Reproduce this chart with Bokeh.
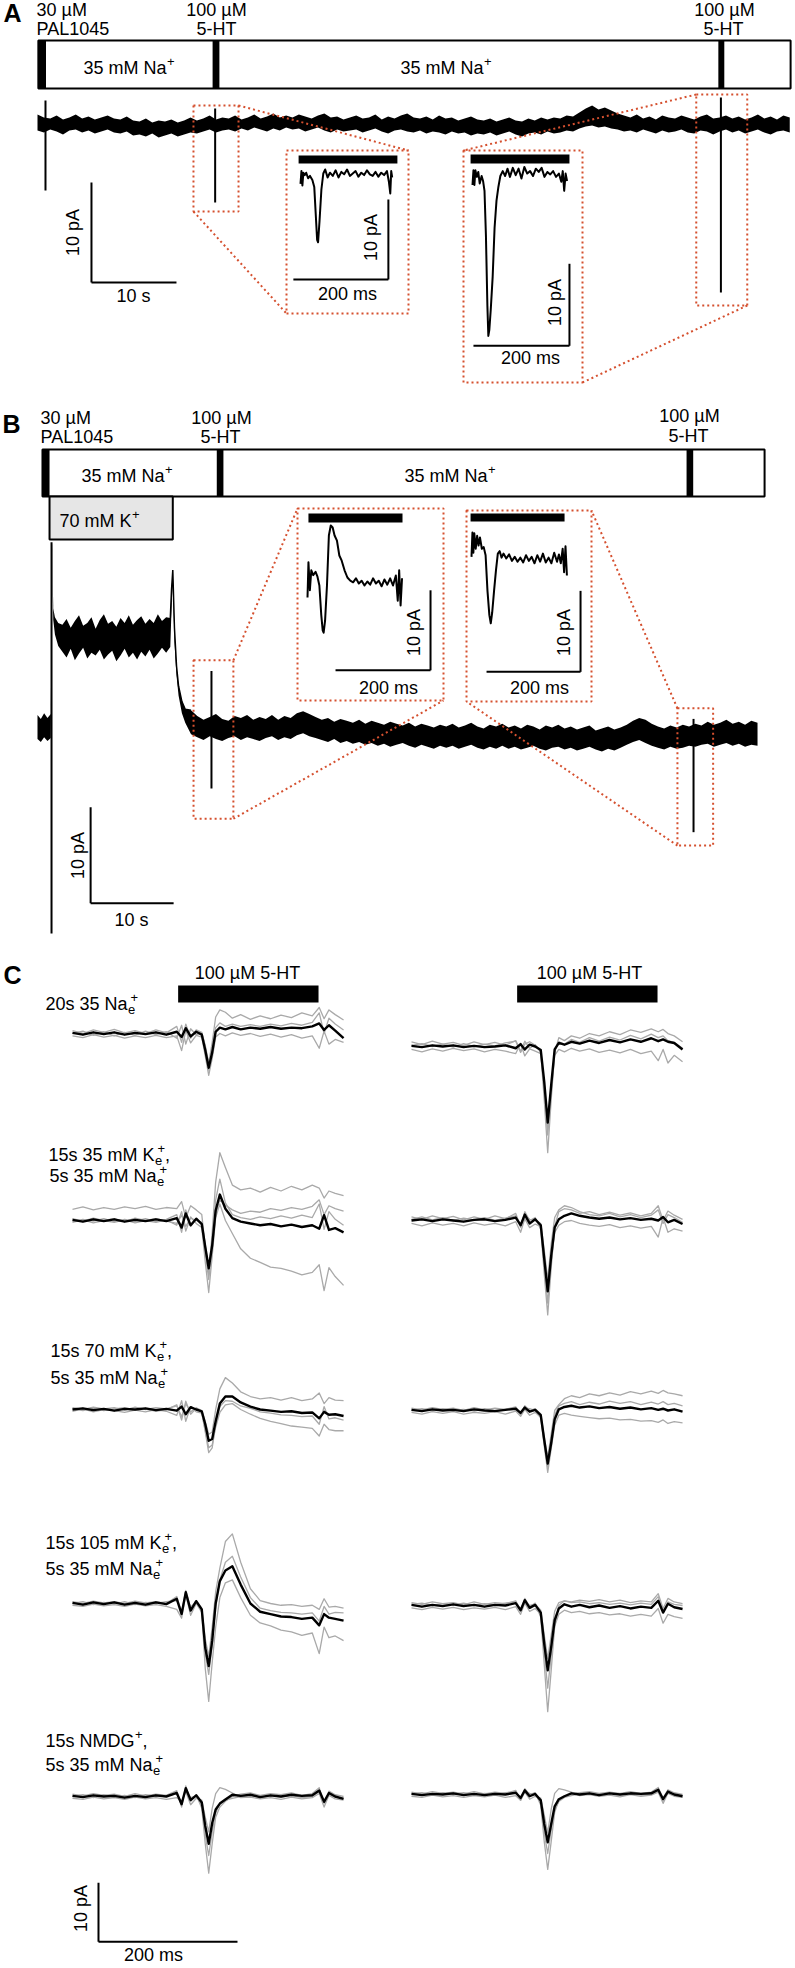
import math
from bokeh.plotting import figure
from bokeh.models import Range1d
from bokeh.core.properties import value
from bokeh.embed import file_html
from bokeh.resources import INLINE

# ======================= DATA =======================
# ---- Panel A : continuous recording sampled every A_DT s; upper / lower noise envelope in pA (baseline = 0)
A_DT = 0.75
A_HI = [0.9, 0.6, 0.5, 0.8, 0.4, 0.6, 0.9, 0.5, 0.7, 0.4,
        0.6, 0.8, 0.5, 0.4, 0.7, 0.3, 0.2, 0.5, 0.1, 0.3,
        0.2, 0.4, 0.1, 0.3, 0.6, 0.3, 0.5, 0.8, 0.4, 0.6,
        0.5, 0.8, 0.4, 0.6, 0.9, 0.5, 0.7, 1.0, 0.6, 0.8,
        0.6, 0.9, 0.7, 0.5, 0.8, 1.0, 0.6, 0.7, 0.4, 0.6,
        0.8, 0.5, 0.6, 0.9, 0.4, 0.7, 0.5, 0.8, 1.0, 0.6,
        0.5, 0.7, 0.4, 0.8, 0.5, 0.6, 0.3, 0.5, 0.7, 0.4,
        0.3, 0.5, 0.2, 0.4, 0.6, 0.3, 0.2, 0.5, 0.3, 0.6,
        0.4, 0.6, 0.5, 0.8, 0.7, 1.1, 1.5, 1.8, 1.4, 1.6,
        1.3, 1.0, 0.8, 0.6, 0.9, 0.5, 0.7, 0.4, 0.8, 0.6,
        0.5, 0.8, 0.6, 0.4, 0.7, 0.9, 0.5, 0.6, 0.8, 0.5,
        0.7, 0.4, 0.6, 0.9, 0.5, 0.7, 0.4, 0.8, 0.6]
A_LO = [-0.7, -0.9, -0.6, -0.8, -1.1, -0.7, -0.6, -0.9, -0.7, -1.0,
        -0.8, -0.6, -0.9, -1.0, -0.8, -1.2, -1.1, -1.3, -1.0, -1.4,
        -1.2, -1.0, -1.3, -1.1, -0.9, -1.0, -0.8, -0.6, -0.9, -0.7,
        -0.6, -0.8, -0.5, -0.7, -0.4, -0.6, -0.8, -0.5, -0.7, -0.4,
        -0.6, -0.5, -0.8, -0.6, -0.4, -0.7, -0.9, -0.6, -0.8, -0.7,
        -0.6, -0.9, -0.7, -0.5, -0.8, -1.0, -0.7, -0.6, -0.8, -0.9,
        -0.7, -1.0, -0.8, -0.9, -1.1, -0.8, -1.0, -0.9, -1.2, -1.0,
        -1.1, -0.9, -1.2, -1.0, -0.8, -1.1, -1.3, -1.0, -0.9, -1.1,
        -0.8, -1.0, -0.9, -0.7, -0.8, -0.5, -0.3, -0.2, -0.4, -0.3,
        -0.5, -0.6, -0.8, -0.7, -0.9, -0.6, -0.8, -1.0, -0.7, -0.9,
        -0.8, -0.6, -0.9, -1.0, -0.7, -0.8, -1.1, -0.8, -0.6, -0.9,
        -0.7, -1.0, -0.8, -0.6, -0.9, -1.1, -0.8, -0.7, -0.9]
A_T = [i * A_DT for i in range(len(A_HI))]
A_SPIKE_T = [0.94, 20.9, 80.4]
A_SPIKE_TOP = [2.3, 1.5, 2.6]
A_SPIKE_BOT = [-6.7, -7.9, -16.9]
A_BAR = [0.1, 88.6]
A_PULSE_ON = [0.1, 20.6, 80.1]
A_PULSE_OFF = [1.0, 21.4, 80.8]
A_ZOOM_T0 = [18.35, 77.5]
A_ZOOM_T1 = [23.65, 83.5]
A_ZOOM_I0 = [-8.8, -18.2]
A_ZOOM_I1 = [1.8, 2.9]

# ---- Panel B : pieces of the recording (s / pA)
B_PRE_T = [0, 0.4, 0.8, 1.2, 1.6]
B_PRE_HI = [1.4, 1.0, 1.6, 1.1, 1.5]
B_PRE_LO = [-1.1, -1.4, -0.9, -1.3, -1.0]
B_ON_T = [1.75, 1.9, 2.1, 2.5]
B_ON_HI = [19.4, 12.5, 11.6, 11.0]
B_ON_LO = [18.6, 11.3, 9.8, 8.6]
B_PLAT_T0, B_PLAT_DT = 3.0, 0.5
B_PLAT_HI = [10.8, 11.4, 10.5, 11.2, 11.8, 10.7, 11.0, 11.6, 10.4, 11.3, 11.9, 10.9, 11.2,
             10.6, 11.5, 11.0, 11.8, 10.8, 11.3, 11.7, 10.9, 11.4, 11.0, 11.9, 11.2, 11.6]
B_PLAT_LO = [8.0, 7.4, 8.3, 7.1, 7.8, 8.4, 7.3, 7.9, 7.6, 8.2, 7.2, 7.7, 8.1,
             7.0, 7.6, 8.3, 7.4, 7.9, 7.2, 8.0, 7.5, 8.2, 7.3, 7.8, 8.4, 7.9]
B_OFF_T = [16.0, 16.15, 16.3, 16.5, 16.75, 17.0, 17.4, 17.8, 18.5]
B_OFF_HI = [11.5, 14.5, 16.5, 10.5, 6.5, 4.4, 2.8, 2.0, 1.9]
B_OFF_LO = [8.5, 12.5, 15.5, 9.0, 5.5, 3.4, 1.6, 0.6, -0.6]
B_POST_T0, B_POST_DT = 19.25, 0.75
B_POST_HI = [1.3, 0.9, 1.2, 1.5, 1.0, 0.8, 1.3, 1.1, 1.4, 0.9,
             1.2, 1.0, 1.4, 0.9, 1.3, 1.1, 1.6, 1.8, 1.5, 1.2,
             0.9, 1.1, 0.7, 1.0, 0.8, 0.6, 0.9, 0.5, 0.8, 0.6,
             0.4, 0.7, 0.5, 0.3, 0.6, 0.2, 0.5, 0.3, 0.1, 0.4,
             0.2, 0.5, 0.1, 0.3, 0.6, 0.2, 0.0, 0.4, 0.2, 0.5,
             0.1, 0.3, 0.0, 0.4, 0.2, -0.1, 0.3, 0.1, 0.4, 0.0,
             0.2, -0.1, 0.1, 0.3, -0.2, 0.0, 0.2, -0.1, 0.1, 0.4,
             0.8, 1.1, 0.9, 0.5, 0.2, 0.0, 0.3, 0.1, 0.4, 0.2,
             0.5, 0.3, 0.7, 0.4, 0.6, 0.9, 0.5, 0.7, 0.4, 0.8, 0.6]
B_POST_LO = [-0.9, -1.2, -0.8, -1.1, -1.3, -1.0, -0.8, -1.2, -0.9, -1.1,
             -1.3, -1.0, -0.8, -1.2, -0.9, -1.1, -0.7, -0.5, -0.8, -1.0,
             -1.2, -1.4, -1.1, -1.5, -1.3, -1.6, -1.4, -1.7, -1.5, -1.8,
             -1.6, -1.9, -1.7, -1.5, -1.8, -2.0, -1.7, -1.9, -2.1, -1.8,
             -2.0, -1.8, -2.1, -1.9, -1.7, -2.0, -2.2, -1.9, -2.1, -1.8,
             -2.1, -1.9, -2.2, -2.0, -1.8, -2.1, -2.3, -2.0, -1.9, -2.2,
             -2.0, -2.3, -2.1, -1.9, -2.2, -2.4, -2.1, -2.3, -2.0, -1.7,
             -1.4, -1.2, -1.5, -1.8, -2.0, -2.2, -1.9, -2.1, -2.0, -1.8,
             -1.9, -1.7, -1.6, -1.9, -1.7, -1.5, -1.8, -1.6, -1.9, -1.7, -1.8]
B_T = (B_PRE_T + B_ON_T + [B_PLAT_T0 + i * B_PLAT_DT for i in range(len(B_PLAT_HI))]
       + B_OFF_T + [B_POST_T0 + i * B_POST_DT for i in range(len(B_POST_HI))])
B_HI = B_PRE_HI + B_ON_HI + B_PLAT_HI + B_OFF_HI + B_POST_HI
B_LO = B_PRE_LO + B_ON_LO + B_PLAT_LO + B_OFF_LO + B_POST_LO
B_STEP_T = [1.69]
B_STEP_TOP = [19.4]
B_STEP_BOT = [-21.35]
B_SPIKE_T = [20.96, 79.04]
B_SPIKE_TOP = [6.0, 1.0]
B_SPIKE_BOT = [-6.25, -10.8]
B_BAR = [0.6, 87.6]
B_PULSE_ON = [0.6, 21.6, 78.2]
B_PULSE_OFF = [1.45, 22.4, 79.0]
B_K_BOX = [1.45, 16.3]
B_ZOOM_T0 = [18.8, 77.1]
B_ZOOM_T1 = [23.6, 81.4]
B_ZOOM_I0 = [-9.4, -12.2]
B_ZOOM_I1 = [7.1, 2.1]

# ---- insets (time ms, current pA)
A1_T = [0, 2, 4, 6, 9, 12, 16, 20, 25, 29, 32, 35, 37, 40, 44, 48, 52, 57, 62, 68, 74, 80, 86, 92, 98, 104,
        110, 116, 122, 128, 134, 140, 146, 152, 158, 164, 170, 176, 182, 186, 189, 191, 193]
A1_I = [-0.8, 0.8, -1.0, 0.6, 0.3, 0.6, -0.1, 0.2, -0.3, -1.2, -4.5, -7.8, -8.1, -5.5, -1.5, 0.5, 1.0, 0.0, 0.6, 0.2,
        0.9, 0.0, 0.7, 0.4, 1.0, 0.2, 0.5, 0.8, 0.1, 0.6, 0.3, 0.9, 0.4, 0.2, 0.7, 0.1, 0.6, 0.3, 0.8, -0.5, -2.0, 0.8, 0.0]
A2_T = [0, 2, 4, 6, 9, 12, 15, 19, 22, 25, 28, 31, 33, 35, 38, 42, 46, 50, 54, 58, 63, 68, 73, 78, 84, 90, 96,
        102, 108, 114, 120, 126, 132, 138, 144, 150, 156, 162, 168, 174, 180, 185, 188, 191, 194, 197]
A2_I = [-0.8, 1.0, -0.8, 1.0, 0.2, 0.8, -0.6, 0.3, -0.3, -1.5, -7.0, -15.5, -19.2, -18.5, -16.0, -12.0, -6.0, -2.7,
        -1.0, 0.3, 0.9, 0.3, 1.2, 0.2, 1.3, 0.4, 1.2, 0.0, 1.4, 0.6, 0.9, 0.3, 1.2, 0.8, 1.3, 0.2, 0.8, 0.5, 0.9, 0.2,
        0.6, -0.4, 0.9, -1.5, 0.6, -0.3]
B1_T = [0, 2, 5, 8, 12, 17, 21, 25, 29, 32, 34, 37, 41, 45, 49, 53, 57, 62, 67, 72, 78, 84, 90, 96, 102, 108,
        114, 120, 126, 132, 138, 144, 150, 156, 162, 168, 174, 180, 186, 190, 193, 196, 199]
B1_I = [-3.0, 1.4, -2.1, 0.4, -0.2, 0.2, -0.4, -1.5, -5.2, -7.1, -7.4, -5.9, -1.5, 4.75, 6.0, 5.75, 4.75, 4.1, 2.25,
        1.6, 0.4, -0.5, -0.9, -1.1, -0.6, -1.25, -0.9, -1.5, -1.0, -1.4, -0.6, -1.25, -0.9, -1.6, -0.75, -1.4, -0.6,
        -1.5, -0.25, -3.4, 0.4, -4.0, -0.6]
B2_T = [0, 2, 4, 6, 9, 12, 15, 18, 22, 26, 30, 34, 38, 41, 44, 48, 52, 56, 60, 64, 68, 74, 80, 86, 92, 98, 104,
        110, 116, 122, 128, 134, 140, 146, 152, 158, 164, 170, 176, 182, 186, 190, 194, 197, 200, 203]
B2_I = [-1.4, 1.6, -0.9, 1.5, -0.4, 1.2, 0.0, 1.0, -0.4, -0.2, -1.2, -5.6, -8.6, -9.6, -8.3, -5.6, -3.1, -1.0, -0.7,
        -1.5, -1.0, -1.6, -1.1, -1.9, -1.4, -2.0, -1.5, -2.1, -1.2, -1.9, -1.4, -2.2, -1.2, -2.0, -1.0, -2.1, -1.5,
        -2.2, -0.9, -2.0, -1.1, -2.2, -0.4, -3.3, -0.1, -3.7]
A1_BAR = [-4, 204]
A2_BAR = [-4, 202]
B1_BAR = [2, 200]
B2_BAR = [-2, 198]

# ---- Panel C : averaged responses (black) and single trials (grey), time ms / pA
C_T = [0, 15, 30, 45, 60, 75, 90, 105, 120, 135, 150, 157, 163, 170, 178, 186, 191, 196, 201, 206,
       212, 220, 230, 242, 256, 270, 285, 300, 315, 330, 345, 355, 362, 369, 378, 390]
C_BAR = [152, 354]

C1L_MEAN = [0.1, -0.2, 0.2, -0.1, 0.2, -0.2, 0.1, -0.1, 0.2, -0.2, 0.3, -0.6, 0.9, -0.5, 0.3, -0.2, -2.8, -5.8, -3.2, 0.3,
            1.0, 0.7, 1.1, 0.7, 1.0, 0.8, 1.1, 0.8, 1.0, 0.9, 1.2, 1.7, 0.6, 1.4, 0.5, -0.8]
C1L_TRIALS = [
    [0.5, 0.0, 0.6, 0.2, 0.7, 0.1, 0.5, 0.0, 0.6, 0.1, 1.2, -1.5, 1.6, -0.8, 0.6, 0.2, -2.0, -5.0, -1.5, 2.8,
     4.0, 3.6, 2.6, 3.2, 2.4, 3.0, 2.5, 3.1, 2.7, 3.5, 3.0, 4.4, 2.5, 4.0, 3.2, 2.3],
    [-0.4, -0.7, -0.2, -0.6, -0.3, -0.8, -0.4, -0.7, -0.3, -0.7, -0.4, -2.9, 0.5, -1.6, -0.3, -0.6, -3.8, -7.1, -4.2, -0.6,
     0.0, -0.4, 0.1, -0.3, 0.0, -0.5, -0.1, -0.6, -0.2, -0.8, -0.4, -2.5, 0.4, -1.8, -1.0, -1.5],
    [0.0, 0.4, -0.3, 0.3, -0.4, 0.2, -0.3, 0.4, -0.2, 0.3, -0.8, 1.4, -1.8, 0.8, -0.2, 0.1, -2.2, -6.2, -2.8, 1.0,
     1.8, 1.2, 1.6, 1.2, 1.5, 1.2, 1.6, 1.3, 1.7, 1.4, 1.9, 3.5, 0.0, 2.6, 1.6, 0.6]]
C1R_MEAN = [0.1, -0.1, 0.2, 0.0, 0.2, -0.1, 0.1, -0.1, 0.0, 0.2, -0.3, 0.4, -0.5, 0.3, 0.0, -0.6, -6.0, -12.9, -6.5, -0.5,
            0.6, 0.3, 0.8, 0.5, 1.0, 0.6, 1.1, 0.7, 1.2, 0.8, 1.4, 0.9, 1.2, 0.8, 0.6, -0.5]
C1R_TRIALS = [
    [0.8, 0.3, 0.9, 0.4, 0.7, 0.2, 0.8, 0.3, 0.7, 0.2, 1.0, -0.8, 0.9, -0.3, 0.3, -1.0, -9.0, -18.0, -9.0, -1.0,
     1.5, 1.0, 1.8, 1.4, 2.2, 1.8, 2.5, 2.0, 2.8, 2.4, 3.0, 2.5, 2.9, 2.2, 1.8, 0.8],
    [-0.5, -0.9, -0.4, -0.8, -0.3, -0.7, -0.4, -0.9, -0.5, -0.8, -1.2, 0.5, -1.6, -0.4, -0.8, -1.2, -7.5, -15.0, -8.0, -1.5,
     -0.5, -0.9, -0.3, -0.8, -0.4, -1.0, -0.6, -1.1, -0.5, -1.2, -0.8, -2.4, -0.5, -2.8, -1.5, -2.6],
    [0.2, 0.5, 0.0, 0.4, -0.1, 0.5, 0.0, 0.4, 0.1, 0.6, 0.9, -1.0, 0.4, 0.8, 0.2, -0.8, -6.5, -14.0, -7.0, -0.8,
     0.8, 0.4, 1.2, 0.7, 1.5, 0.9, 1.6, 1.1, 1.9, 1.3, 2.1, 1.5, 1.8, 1.0, 0.7, -0.3]]

C2L_MEAN = [0.1, -0.2, 0.2, -0.1, 0.2, -0.2, 0.1, -0.1, 0.2, -0.1, 0.4, -1.2, 1.2, -0.8, 0.3, -0.6, -4.5, -8.1, -4.2, 1.7,
            4.4, 2.0, 0.4, -0.2, -0.5, -0.8, -0.6, -1.0, -0.7, -1.1, -0.8, -1.4, 0.9, -1.6, -1.3, -2.0]
C2L_TRIALS = [
    [-0.3, 0.1, -0.4, 0.0, -0.3, 0.1, -0.4, 0.0, -0.3, 0.1, -0.8, 1.5, -1.8, 0.6, -0.5, -1.2, -7.0, -12.2, -6.0, 0.5,
     2.8, 0.0, -2.2, -4.8, -6.4, -7.1, -7.9, -8.1, -8.6, -9.2, -8.8, -7.5, -11.9, -8.0, -9.5, -11.0],
    [1.9, 2.3, 1.8, 2.2, 1.9, 2.3, 2.0, 2.4, 1.9, 2.2, 2.0, 3.2, 0.5, 2.5, 1.8, 1.0, -4.5, -9.0, -2.0, 6.5,
     11.5, 9.0, 6.0, 5.2, 5.5, 4.8, 5.6, 5.0, 5.8, 5.2, 6.0, 5.5, 3.8, 5.0, 4.6, 4.2],
    [-0.2, 0.2, -0.1, 0.3, -0.2, 0.2, -0.1, 0.3, -0.2, 0.2, 1.0, -2.0, 1.8, -1.0, 0.2, -0.4, -5.5, -10.0, -5.0, 3.5,
     7.0, 3.0, 1.0, 0.5, 0.2, 0.6, 0.3, 0.8, 0.4, 0.9, 0.5, 2.8, -1.5, 1.5, 0.2, -0.8],
    [0.3, -0.1, 0.4, 0.0, 0.3, -0.2, 0.4, 0.0, 0.3, -0.1, -0.5, 0.9, -1.0, 0.4, 0.0, -0.3, -4.0, -8.5, -4.5, 1.0,
     3.5, 2.6, 1.8, 1.2, 1.6, 1.4, 2.0, 1.7, 2.2, 1.9, 2.4, 3.5, 1.0, 2.5, 2.0, 1.6]]
C2R_MEAN = [0.0, 0.2, -0.1, 0.2, 0.0, -0.2, 0.1, 0.2, -0.1, 0.1, 0.5, -0.8, 1.0, -0.5, 0.2, -0.8, -6.5, -12.0, -6.0, -1.2,
            0.2, 0.8, 1.2, 0.8, 0.5, 0.3, 0.5, 0.2, 0.4, 0.1, 0.3, 0.0, 0.6, -0.3, 0.1, -0.6]
C2R_TRIALS = [
    [0.6, 0.2, 0.8, 0.3, 0.7, 0.1, 0.6, 0.2, 0.8, 0.3, 1.2, -1.0, 1.5, 0.0, 0.5, -1.5, -9.0, -16.0, -8.0, -1.0,
     1.5, 2.0, 1.8, 1.2, 1.5, 1.0, 1.4, 0.9, 1.3, 0.8, 1.2, 2.5, 0.0, 1.6, 0.9, 0.2],
    [-0.5, -0.9, -0.4, -0.8, -0.5, -0.9, -0.4, -0.8, -0.5, -0.9, -0.2, -2.0, 0.3, -1.2, -0.6, -1.0, -7.5, -14.0, -7.0, -2.0,
     -0.8, -0.2, 0.0, -0.5, -0.8, -1.0, -0.7, -1.2, -0.9, -1.3, -1.0, -2.8, 0.5, -2.0, -1.4, -1.8],
    [0.2, 0.6, 0.1, 0.5, 0.0, 0.4, 0.1, 0.5, 0.0, 0.4, 0.8, -1.2, 0.9, 0.2, 0.1, -0.5, -5.0, -10.0, -4.0, 0.5,
     1.8, 2.5, 2.2, 1.5, 1.0, 0.8, 1.2, 0.6, 1.0, 0.5, 0.9, 1.8, -0.5, 1.0, 0.5, -0.3]]

C3L_MEAN = [0.0, 0.2, -0.1, 0.1, -0.2, 0.1, 0.0, 0.2, -0.1, 0.1, -0.2, 0.5, -0.8, 0.4, 0.0, -0.3, -2.5, -5.3, -5.0, -2.0,
            1.0, 2.2, 2.2, 1.2, 0.5, 0.0, -0.2, -0.4, -0.3, -0.6, -0.5, -1.5, -0.4, -0.9, -0.8, -1.1]
C3L_TRIALS = [
    [0.3, 0.0, 0.4, 0.1, 0.3, -0.1, 0.4, 0.0, 0.3, 0.1, 0.6, -1.2, 1.0, -0.4, 0.3, -0.2, -2.0, -4.2, -3.8, 0.0,
     3.5, 5.4, 4.5, 3.0, 2.2, 1.8, 2.0, 1.6, 2.0, 1.5, 1.8, 2.8, 1.0, 2.0, 1.6, 1.5],
    [-0.3, 0.1, -0.4, 0.0, -0.2, -0.5, -0.1, -0.4, 0.0, -0.3, -1.0, 1.5, -2.0, 0.5, -0.4, -0.6, -3.5, -6.5, -6.0, -3.0,
     -0.5, 0.8, 1.0, 0.0, -0.8, -1.5, -2.0, -2.4, -2.8, -3.0, -3.2, -4.5, -2.5, -3.4, -3.6, -3.6],
    [0.1, -0.2, 0.2, -0.2, 0.1, 0.3, -0.1, 0.1, -0.3, 0.0, 0.8, -1.8, 1.4, -0.8, 0.2, -0.5, -3.8, -7.3, -6.5, -2.5,
     0.5, 1.5, 1.4, 0.6, 0.2, -0.4, -0.6, -0.9, -1.0, -1.2, -1.1, -2.5, 0.5, -1.6, -1.4, -1.8]]
C3R_MEAN = [0.1, -0.1, 0.2, 0.0, 0.1, -0.1, 0.2, 0.0, -0.1, 0.1, 0.3, -0.4, 0.5, -0.2, 0.1, -0.8, -5.0, -9.0, -5.5, -1.5,
            0.2, 0.6, 0.8, 0.5, 0.7, 0.4, 0.6, 0.3, 0.5, 0.2, 0.4, 0.1, 0.3, 0.0, 0.2, -0.2]
C3R_TRIALS = [
    [0.4, 0.1, 0.5, 0.2, 0.4, 0.0, 0.5, 0.1, 0.4, 0.2, 0.6, -0.6, 0.8, 0.0, 0.3, -0.6, -4.5, -8.0, -4.0, 0.0,
     1.0, 2.0, 2.5, 2.2, 2.8, 2.5, 3.0, 2.6, 3.2, 2.8, 3.3, 2.9, 3.4, 3.0, 2.8, 2.5],
    [-0.3, -0.6, -0.2, -0.5, -0.2, -0.6, -0.3, -0.5, -0.2, -0.6, -0.1, -1.0, 0.2, -0.8, -0.3, -1.2, -6.0, -10.5, -6.5, -2.5,
     -0.8, -0.5, -0.8, -1.0, -1.2, -1.4, -1.3, -1.6, -1.5, -1.8, -1.7, -2.0, -1.6, -2.2, -1.9, -2.1],
    [0.0, 0.3, -0.1, 0.3, 0.0, 0.2, -0.1, 0.3, 0.0, 0.2, 0.5, -0.8, 0.4, 0.3, 0.0, -1.0, -5.5, -9.5, -5.0, -0.8,
     0.8, 1.2, 1.5, 1.0, 1.4, 1.1, 1.6, 1.2, 1.5, 1.0, 1.4, 1.1, 1.5, 1.0, 1.2, 0.8]]

C4L_MEAN = [0.1, -0.2, 0.2, -0.1, 0.2, -0.2, 0.1, -0.2, 0.2, -0.1, 0.8, -1.8, 1.9, -1.2, 0.4, -1.0, -7.5, -10.6, -6.3, 0.0,
            3.8, 5.6, 6.3, 3.2, 0.0, -1.4, -1.8, -2.2, -2.3, -2.6, -2.4, -3.7, -1.8, -2.4, -2.6, -2.9]
C4L_TRIALS = [
    [0.3, 0.0, 0.4, 0.1, 0.3, 0.0, 0.4, 0.1, 0.3, 0.0, 1.2, -1.5, 2.2, -0.8, 0.5, -0.8, -6.0, -9.0, -4.0, 2.0,
     6.0, 10.5, 11.8, 7.0, 2.5, 0.5, 0.0, -0.3, -0.2, -0.5, -0.3, -1.0, 0.8, -0.6, -0.5, -0.8],
    [-0.3, -0.5, -0.1, -0.4, -0.2, -0.5, -0.1, -0.4, -0.2, -0.5, -1.0, -2.5, 1.5, -2.0, 0.0, -1.5, -11.0, -16.6, -10.0, -4.0,
     1.0, 3.5, 4.0, 1.0, -2.0, -3.3, -3.8, -4.5, -4.8, -5.4, -5.0, -8.5, -4.0, -5.8, -5.5, -6.3],
    [0.0, 0.3, -0.2, 0.2, -0.1, 0.3, -0.2, 0.2, 0.0, 0.3, 0.5, -1.2, 1.5, -0.6, 0.3, -1.2, -8.5, -12.0, -7.0, -0.5,
     4.0, 7.0, 8.0, 4.5, 1.0, -0.8, -1.2, -1.5, -1.6, -1.8, -1.6, -3.0, -0.5, -1.8, -1.5, -1.6]]
C4R_MEAN = [0.1, -0.2, 0.1, -0.1, 0.2, -0.1, 0.1, -0.2, 0.1, 0.0, 0.4, -0.8, 0.9, -0.4, 0.1, -1.2, -6.5, -11.0, -7.0, -2.5,
            -0.5, 0.2, -0.2, 0.1, -0.3, 0.0, -0.4, -0.1, -0.5, -0.2, -0.4, 0.8, -1.2, 0.3, -0.3, -0.6]
C4R_TRIALS = [
    [0.5, 0.2, 0.6, 0.3, 0.5, 0.1, 0.6, 0.2, 0.5, 0.3, 0.8, -0.9, 1.2, -0.2, 0.4, -2.0, -10.0, -18.0, -11.0, -3.5,
     0.0, 0.8, 0.6, 0.9, 0.7, 1.0, 0.6, 0.9, 0.5, 0.8, 0.6, 2.0, -0.5, 1.2, 0.6, 0.3],
    [-0.4, -0.7, -0.3, -0.6, -0.3, -0.7, -0.4, -0.6, -0.3, -0.7, -0.2, -1.5, 0.4, -1.0, -0.5, -1.5, -8.0, -14.0, -8.5, -3.5,
     -1.5, -0.8, -1.2, -1.0, -1.4, -1.2, -1.6, -1.4, -1.8, -1.5, -1.8, -0.5, -3.0, -1.5, -1.9, -2.2],
    [0.2, 0.4, 0.0, 0.3, 0.1, 0.4, 0.0, 0.3, 0.1, 0.4, 0.6, -0.6, 0.7, 0.0, 0.2, -0.8, -5.0, -9.0, -5.0, -1.0,
     0.5, 0.8, 0.5, 0.6, 0.3, 0.5, 0.2, 0.4, 0.1, 0.4, 0.2, 1.5, -1.0, 0.6, 0.2, 0.0]]

C5L_MEAN = [0.1, -0.1, 0.2, 0.0, 0.1, -0.2, 0.1, -0.1, 0.2, 0.0, 0.6, -1.3, 1.4, -0.6, 0.2, -1.0, -5.0, -8.0, -4.5, -2.2,
            -1.2, -0.5, 0.3, 0.1, 0.3, -0.1, 0.2, 0.0, 0.3, 0.1, 0.2, 1.0, -0.9, 0.6, 0.0, -0.4]
C5L_TRIALS = [
    [0.4, 0.1, 0.5, 0.2, 0.4, 0.0, 0.5, 0.1, 0.4, 0.2, 1.0, -1.8, 1.8, -0.8, 0.3, -2.0, -8.0, -13.0, -8.0, -3.5,
     -1.8, -0.8, 0.0, 0.4, 0.6, 0.2, 0.5, 0.3, 0.6, 0.2, 0.5, 1.5, -1.2, 0.9, 0.3, 0.0],
    [-0.3, -0.5, -0.1, -0.4, -0.2, -0.5, -0.1, -0.4, -0.2, -0.5, -0.2, -0.8, 0.8, -1.4, -0.3, -0.6, -3.5, -6.0, -2.0, 0.5,
     1.5, 1.2, 0.6, -0.2, -0.1, -0.4, -0.2, -0.5, -0.1, -0.4, -0.2, 0.5, -1.8, 0.2, -0.4, -0.6],
    [0.0, 0.3, -0.2, 0.3, -0.1, 0.2, -0.2, 0.3, 0.0, 0.2, 0.4, -1.0, 1.0, -0.2, 0.1, -1.5, -6.5, -10.0, -6.0, -2.8,
     -1.2, -0.6, -0.3, 0.0, 0.2, -0.2, 0.1, -0.1, 0.2, -0.2, 0.0, 0.8, -0.8, 0.4, -0.1, -0.3]]
C5R_MEAN = [0.1, -0.1, 0.1, 0.0, 0.2, -0.1, 0.1, -0.1, 0.1, 0.0, 0.3, -0.6, 0.7, -0.3, 0.1, -1.0, -5.0, -8.1, -5.0, -2.0,
            -0.8, -0.3, 0.2, 0.0, 0.2, -0.1, 0.2, 0.0, 0.2, 0.1, 0.2, 0.8, -0.8, 0.5, 0.0, -0.3]
C5R_TRIALS = [
    [0.4, 0.1, 0.5, 0.2, 0.4, 0.1, 0.5, 0.1, 0.4, 0.2, 0.7, -1.0, 1.0, 0.0, 0.3, -1.8, -8.0, -12.7, -8.0, -3.0,
     -1.0, -0.4, 0.2, 0.3, 0.5, 0.2, 0.4, 0.2, 0.5, 0.2, 0.4, 1.2, -0.6, 0.8, 0.3, 0.0],
    [-0.3, -0.5, -0.1, -0.4, -0.2, -0.5, -0.2, -0.4, -0.1, -0.5, -0.2, -1.0, 0.4, -0.8, -0.3, -0.6, -3.5, -6.5, -2.5, 0.2,
     1.0, 0.8, 0.4, -0.2, 0.0, -0.3, -0.1, -0.4, 0.0, -0.3, -0.1, 0.4, -1.5, 0.2, -0.3, -0.5],
    [0.1, 0.3, -0.1, 0.3, 0.0, 0.3, -0.1, 0.2, 0.0, 0.3, 0.4, -0.5, 0.6, 0.2, 0.0, -1.2, -6.5, -10.0, -6.0, -2.5,
     -1.2, -0.5, -0.2, 0.1, 0.2, -0.1, 0.2, 0.0, 0.1, -0.1, 0.0, 0.6, -0.7, 0.3, -0.1, -0.2]]

SCALE_S = 10
SCALE_PA = 10
SCALE_MS = 200

# ======================= LAYOUT / STYLE =======================
FONT = "Liberation Sans"
RED = "#d5502f"
GREY = "#a9a9a9"
W, H = 795, 1968
PX0, PX1, PY0, PY1 = 0, 795, 1968, 0   # page pixel window covered by the plot frame

# origin_x(px), px per x-unit, baseline_y(px), px per y-unit
PANELS = {
    "A": (37, 8.5, 123, 10.0), "B": (37, 8.3, 728, 9.6),
    "A1": (300, 0.475, 177, 8.0), "A2": (472, 0.48, 178, 8.2),
    "B1": (307, 0.475, 573, 8.0), "B2": (471, 0.47, 545, 8.1),
    "C1L": (72, 0.695, 1033, 5.9), "C1R": (411, 0.695, 1046, 5.9),
    "C2L": (72, 0.695, 1220, 5.9), "C2R": (411, 0.695, 1220, 5.9),
    "C3L": (72, 0.695, 1409, 5.9), "C3R": (411, 0.695, 1410, 5.9),
    "C4L": (72, 0.695, 1603, 5.9), "C4R": (411, 0.695, 1605, 5.9),
    "C5L": (72, 0.695, 1796, 5.9), "C5R": (411, 0.695, 1794, 5.9),
}

p = figure(width=W, height=H, x_range=Range1d(PX0, PX1), y_range=Range1d(PY0, PY1),
           output_backend="svg", toolbar_location=None, x_axis_location=None,
           y_axis_location=None, min_border=0)
p.xgrid.visible = False
p.ygrid.visible = False
p.outline_line_color = None
p.background_fill_color = "white"
p.border_fill_color = "white"

xr, yr = {}, {}
for name, (ox, kx, oy, ky) in PANELS.items():
    sx = -(ox - PX0) / kx
    xr[name] = Range1d(sx, sx + W / kx)
    sy = -(PY0 - oy) / ky
    yr[name] = Range1d(sy, sy + H / ky)
p.extra_x_ranges = xr
p.extra_y_ranges = yr


def to_page(name, x, y):
    ox, kx, oy, ky = PANELS[name]
    return ox + x * kx, oy - y * ky


def nm(name):
    return dict(x_range_name=name, y_range_name=name)


CW = {' ': .278, ',': .278, '-': .333, '+': .584, 'µ': .576, 'A': .667, 'B': .667, 'C': .722,
      'D': .722, 'G': .778, 'H': .722, 'K': .667, 'L': .556, 'M': .833, 'N': .722, 'P': .667,
      'T': .611, 'a': .556, 'e': .556, 'm': .833, 'p': .556, 's': .5}


def tw(s, fs):
    return sum(CW.get(c, 0.556) for c in s) * fs


def txt(x, y, s, size=18, align="center", angle=0.0, bold=False):
    p.text(x=[x], y=[y], text=[s], angle=angle, text_font=value(FONT),
           text_font_size=value(f"{size}px"), text_font_style="bold" if bold else "normal",
           text_align=align, text_baseline="middle", text_color="black")


def rich(x, y, parts, size=18):
    cx = x
    sub = None
    for s, kind in parts:
        if kind == "n":
            fs, dy, px = size, 0, cx
            cx = px + tw(s, fs)
        elif kind == "sub":
            fs, dy, px = size * 0.72, 6, cx + 0.5
            sub = (px, tw(s, fs))
            cx = px + sub[1]
        else:
            fs, dy = size * 0.72, -6
            px = (sub[0] + 2.5) if sub else cx + 0.5
            cx = max(cx, px + tw(s, fs))
            sub = None
        txt(px, y + dy, s, size=round(fs, 1), align="left")


def scalebar(name, x0, y0, dx, dy, vert_right):
    xv = x0 + dx if vert_right else x0
    p.line([x0, x0 + dx], [y0, y0], line_color="black", line_width=2, **nm(name))
    p.line([xv, xv], [y0, y0 + dy], line_color="black", line_width=2, **nm(name))


def dotted_seg(xa, ya, xb, yb):
    p.segment(x0=[xa], y0=[ya], x1=[xb], y1=[yb], line_color=RED, line_width=2, line_dash="2 3")


def dotted_box(l, r, t, b, name="default"):
    p.quad(left=[l], right=[r], top=[t], bottom=[b], fill_alpha=0, line_color=RED,
           line_width=2, line_dash="2 3", x_range_name=name, y_range_name=name)


# ======================= PANEL A =======================
txt(12, 12, "A", size=25, bold=True)
txt(36, 9.5, "30 µM", align="left")
txt(36, 28, "PAL1045", align="left")
txt(216, 9.5, "100 µM")
txt(216, 28, "5-HT")
txt(724, 9.5, "100 µM")
txt(723, 28, "5-HT")
p.quad(left=[A_BAR[0]], right=[A_BAR[1]], top=[40], bottom=[88], fill_color="white",
       line_color="black", line_width=2, x_range_name="A")
p.quad(left=A_PULSE_ON, right=A_PULSE_OFF, top=40, bottom=88, fill_color="black",
       line_color=None, x_range_name="A")
rich(83, 67, [("35 mM Na", "n"), ("+", "sup")])
rich(400, 67, [("35 mM Na", "n"), ("+", "sup")])

p.varea(x=A_T, y1=A_LO, y2=A_HI, fill_color="black", **nm("A"))
p.segment(x0=A_SPIKE_T, y0=A_SPIKE_TOP, x1=A_SPIKE_T, y1=A_SPIKE_BOT, line_color="black",
          line_width=2, **nm("A"))
scalebar("A", 6.35, -15.9, SCALE_S, SCALE_PA, False)
txt(72, 232, "10 pA", angle=math.pi / 2)
txt(133, 295, "10 s")

# inset A1
p.quad(left=[A1_BAR[0]], right=[A1_BAR[1]], top=[155], bottom=[163], fill_color="black",
       line_color=None, x_range_name="A1")
p.line(A1_T, A1_I, line_color="black", line_width=2, line_join="round", **nm("A1"))
scalebar("A1", -15, -12.75, SCALE_MS, SCALE_PA, True)
txt(370, 237, "10 pA", angle=math.pi / 2)
txt(347, 293, "200 ms")
# inset A2
p.quad(left=[A2_BAR[0]], right=[A2_BAR[1]], top=[154], bottom=[163], fill_color="black",
       line_color=None, x_range_name="A2")
p.line(A2_T, A2_I, line_color="black", line_width=2, line_join="round", **nm("A2"))
scalebar("A2", 2, -20.4, SCALE_MS, SCALE_PA, True)
txt(554, 302, "10 pA", angle=math.pi / 2)
txt(530, 357, "200 ms")

# zoom boxes / connectors A
INSET_A1 = (286, 408, 150, 313)
INSET_A2 = (463, 582, 150, 382)
for i in range(2):
    dotted_box(A_ZOOM_T0[i], A_ZOOM_T1[i], A_ZOOM_I1[i], A_ZOOM_I0[i], "A")
dotted_box(*INSET_A1)
dotted_box(*INSET_A2)
x, y = to_page("A", A_ZOOM_T1[0], A_ZOOM_I1[0]); dotted_seg(x, y, INSET_A1[1], INSET_A1[2])
x, y = to_page("A", A_ZOOM_T0[0], A_ZOOM_I0[0]); dotted_seg(x, y, INSET_A1[0], INSET_A1[3])
x, y = to_page("A", A_ZOOM_T0[1], A_ZOOM_I1[1]); dotted_seg(x, y, INSET_A2[0], INSET_A2[2])
x, y = to_page("A", A_ZOOM_T1[1], A_ZOOM_I0[1]); dotted_seg(x, y, INSET_A2[1], INSET_A2[3])

# ======================= PANEL B =======================
txt(11, 423, "B", size=25, bold=True)
txt(40, 417, "30 µM", align="left")
txt(40, 436.5, "PAL1045", align="left")
txt(221, 417, "100 µM")
txt(220, 436.5, "5-HT")
txt(689, 415, "100 µM")
txt(688, 435, "5-HT")
p.quad(left=[B_BAR[0]], right=[B_BAR[1]], top=[449], bottom=[496], fill_color="white",
       line_color="black", line_width=2, x_range_name="B")
p.quad(left=B_PULSE_ON, right=B_PULSE_OFF, top=449, bottom=496, fill_color="black",
       line_color=None, x_range_name="B")
p.quad(left=[B_K_BOX[0]], right=[B_K_BOX[1]], top=[496], bottom=[539], fill_color="#e6e6e6",
       line_color="black", line_width=2, x_range_name="B")
rich(81, 475, [("35 mM Na", "n"), ("+", "sup")])
rich(404, 475, [("35 mM Na", "n"), ("+", "sup")])
rich(59, 520, [("70 mM K", "n"), ("+", "sup")])

p.varea(x=B_T, y1=B_LO, y2=B_HI, fill_color="black", **nm("B"))
p.line(B_OFF_T, B_OFF_HI, line_color="black", line_width=1.5, **nm("B"))
p.segment(x0=B_STEP_T, y0=B_STEP_TOP, x1=B_STEP_T, y1=B_STEP_BOT, line_color="black",
          line_width=2, **nm("B"))
p.segment(x0=B_SPIKE_T, y0=B_SPIKE_TOP, x1=B_SPIKE_T, y1=B_SPIKE_BOT, line_color="black",
          line_width=2, **nm("B"))
scalebar("B", 6.4, -18.2, SCALE_S, SCALE_PA, False)
txt(77, 855, "10 pA", angle=math.pi / 2)
txt(131, 919, "10 s")

p.quad(left=[B1_BAR[0]], right=[B1_BAR[1]], top=[513], bottom=[522], fill_color="black",
       line_color=None, x_range_name="B1")
p.line(B1_T, B1_I, line_color="black", line_width=2, line_join="round", **nm("B1"))
scalebar("B1", 59, -12.1, SCALE_MS, SCALE_PA, True)
txt(413, 632, "10 pA", angle=math.pi / 2)
txt(388, 687, "200 ms")
p.quad(left=[B2_BAR[0]], right=[B2_BAR[1]], top=[513], bottom=[521], fill_color="black",
       line_color=None, x_range_name="B2")
p.line(B2_T, B2_I, line_color="black", line_width=2, line_join="round", **nm("B2"))
scalebar("B2", 32, -15.6, SCALE_MS, SCALE_PA, True)
txt(563, 632, "10 pA", angle=math.pi / 2)
txt(539, 687, "200 ms")

INSET_B1 = (297, 443, 508, 700)
INSET_B2 = (466, 591, 510, 701)
for i in range(2):
    dotted_box(B_ZOOM_T0[i], B_ZOOM_T1[i], B_ZOOM_I1[i], B_ZOOM_I0[i], "B")
dotted_box(*INSET_B1)
dotted_box(*INSET_B2)
x, y = to_page("B", B_ZOOM_T1[0], B_ZOOM_I1[0]); dotted_seg(x, y, INSET_B1[0], INSET_B1[2])
x, y = to_page("B", B_ZOOM_T1[0], B_ZOOM_I0[0]); dotted_seg(x, y, INSET_B1[1], INSET_B1[3])
x, y = to_page("B", B_ZOOM_T0[1], B_ZOOM_I1[1]); dotted_seg(x, y, INSET_B2[1], INSET_B2[2])
x, y = to_page("B", B_ZOOM_T0[1], B_ZOOM_I0[1]); dotted_seg(x, y, INSET_B2[0], INSET_B2[3])

# ======================= PANEL C =======================
txt(12, 974, "C", size=25, bold=True)
txt(247, 972, "100 µM 5-HT")
txt(589, 972, "100 µM 5-HT")
for nmc in ("C1L", "C1R"):
    p.quad(left=[C_BAR[0]], right=[C_BAR[1]], top=[985], bottom=[1002], fill_color="black",
           line_color=None, x_range_name=nmc)

C_DATA = {
    "C1L": (C1L_MEAN, C1L_TRIALS), "C1R": (C1R_MEAN, C1R_TRIALS),
    "C2L": (C2L_MEAN, C2L_TRIALS), "C2R": (C2R_MEAN, C2R_TRIALS),
    "C3L": (C3L_MEAN, C3L_TRIALS), "C3R": (C3R_MEAN, C3R_TRIALS),
    "C4L": (C4L_MEAN, C4L_TRIALS), "C4R": (C4R_MEAN, C4R_TRIALS),
    "C5L": (C5L_MEAN, C5L_TRIALS), "C5R": (C5R_MEAN, C5R_TRIALS),
}
for key, (mean, trials) in C_DATA.items():
    for tr in trials:
        p.line(C_T, tr, line_color=GREY, line_width=1.3, line_join="round", **nm(key))
    p.line(C_T, mean, line_color="black", line_width=2.4, line_join="round", **nm(key))

rich(45, 1003, [("20s 35 Na", "n"), ("e", "sub"), ("+", "sup")])
rich(48, 1154, [("15s 35 mM K", "n"), ("e", "sub"), ("+", "sup"), (",", "n")])
rich(49, 1175, [("5s 35 mM Na", "n"), ("e", "sub"), ("+", "sup")])
rich(50, 1350, [("15s 70 mM K", "n"), ("e", "sub"), ("+", "sup"), (",", "n")])
rich(50, 1377, [("5s 35 mM Na", "n"), ("e", "sub"), ("+", "sup")])
rich(45, 1542, [("15s 105 mM K", "n"), ("e", "sub"), ("+", "sup"), (",", "n")])
rich(45, 1568, [("5s 35 mM Na", "n"), ("e", "sub"), ("+", "sup")])
rich(45, 1740, [("15s NMDG", "n"), ("+", "sup"), (",", "n")])
rich(45, 1764, [("5s 35 mM Na", "n"), ("e", "sub"), ("+", "sup")])

scalebar("C5L", 37.4, -24.6, SCALE_MS, SCALE_PA, False)
txt(80, 1908, "10 pA", angle=math.pi / 2)
txt(153, 1954, "200 ms")

open("out.html", "w").write(file_html(p, INLINE))
